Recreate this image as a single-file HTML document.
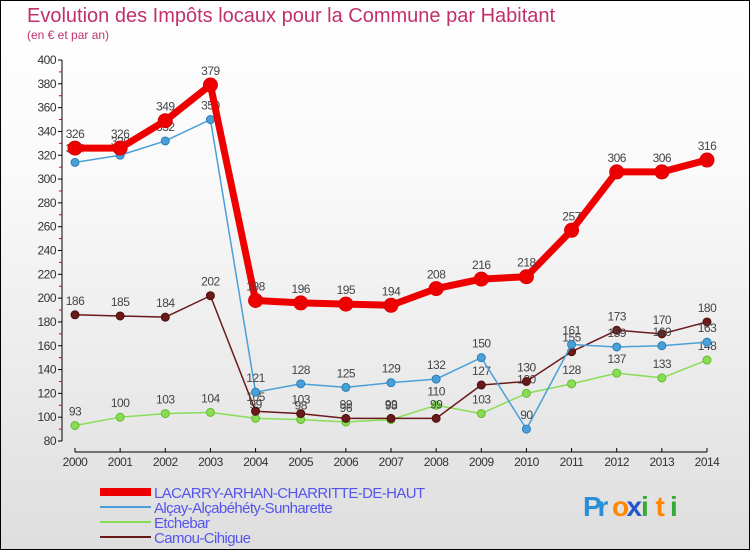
<!DOCTYPE html>
<html><head><meta charset="utf-8"><style>
body{margin:0}
#wrap{width:750px;height:550px;position:relative;overflow:hidden;box-sizing:border-box;border:1px solid #000;background:linear-gradient(#fff,#fafafa 30%,#dedede);font-family:"Liberation Sans","DejaVu Sans",sans-serif}
</style></head><body>
<div id="wrap">
<svg id="chart" width="750" height="550" style="position:absolute;left:-1px;top:-1px"></svg>
</div>
<script>
const years=["2000","2001","2002","2003","2004","2005","2006","2007","2008","2009","2010","2011","2012","2013","2014"];
const lacarry=[326,326,349,379,198,196,195,194,208,216,218,257,306,306,316];
const alcay=[314,320,332,350,121,128,125,129,132,150,90,161,159,160,163];
const etchebar=[93,100,103,104,99,98,96,98,110,103,120,128,137,133,148];
const camou=[186,185,184,202,105,103,99,99,99,127,130,155,173,170,180];
const yTicks=[80,100,120,140,160,180,200,220,240,260,280,300,320,340,360,380,400];
const NS="http://www.w3.org/2000/svg";
const svg=document.getElementById('chart');
function X(i){return 75+i*(632/14);}
function Y(v){return 441-(v-80)*(381/320);}
function el(t,a,p){const e=document.createElementNS(NS,t);for(const k in a)e.setAttribute(k,a[k]);(p||svg).appendChild(e);return e;}
function txt(x,y,s,a){const e=el('text',Object.assign({x:x,y:y},a));e.textContent=s;return e;}
let t=txt(27,22,"Evolution des Impôts locaux pour la Commune par Habitant",{fill:"#c0306a","font-size":"20"});

t=txt(27,39,"(en € et par an)",{fill:"#c0306a","font-size":"12"});

let a=el('line',{x1:62,y1:60,x2:62,y2:441,stroke:"#000","stroke-width":1});

a=el('line',{x1:75,y1:452,x2:707,y2:452,stroke:"#000","stroke-width":1});

yTicks.forEach((v,i)=>{
 el('line',{x1:58,y1:Y(v),x2:62,y2:Y(v),stroke:"#000"});
 if(i<yTicks.length-1)el('line',{x1:59,y1:Y(v+10),x2:62,y2:Y(v+10),stroke:"#d00"});
 const l=txt(56,Y(v)+4,String(v),{fill:"#333","font-size":"12","text-anchor":"end","letter-spacing":"-0.5"});
 
});
years.forEach((y,i)=>{
 el('line',{x1:X(i),y1:448,x2:X(i),y2:452,stroke:"#000"});
 const l=txt(X(i),466,y,{fill:"#333","font-size":"12","text-anchor":"middle","letter-spacing":"-0.5"});
 
});
function series(data,color,w,r,name,dark){
 const g=el('g',{});
 
 el('polyline',{points:data.map((v,i)=>X(i)+","+Y(v)).join(" "),fill:"none",stroke:color,"stroke-width":w,"stroke-linejoin":"round"},g);
 data.forEach((v,i)=>{
  const c=el('circle',{cx:X(i),cy:Y(v),r:r,fill:color,stroke:dark,"stroke-width":1},g);
  
  const l=txt(X(i),Y(v)-10,String(v),{fill:"#444","font-size":"12","text-anchor":"middle","letter-spacing":"-0.5"},g);
  
 });
}
series(etchebar,"#88dd55",1.5,4,"series-etchebar","#66bb33");
series(camou,"#6b1a1a",1.5,4,"series-camou","#4a0f0f");
series(alcay,"#4a9fd8",1.5,4,"series-alcay","#2a7fb8");
series(lacarry,"#ee0000",7,7,"series-lacarry","#dd0000");
const leg=[["LACARRY-ARHAN-CHARRITTE-DE-HAUT","#ee0000",8],["Alçay-Alçabéhéty-Sunharette","#4a9fd8",2],["Etchebar","#88dd55",2],["Camou-Cihigue","#6b1a1a",2]];
leg.forEach((d,i)=>{
 const g=el('g',{});
 
 const yy=492+i*15;
 el('line',{x1:100,y1:yy,x2:151,y2:yy,stroke:d[1],"stroke-width":d[2]},g);
 txt(154,yy+6,d[0],{fill:"#5555ee","font-size":"15","letter-spacing":"-0.6"},g);
});
const lg=el('g',{});

[["P","#2a8fd8"],["r","#2a8fd8"],["o","#ff8800"],["x","#2255cc"],["i","#33aa33"],["t","#ff8800"],["i","#33aa33"]].forEach((c,i)=>{
 txt(583+i*14.5,516,c[0],{fill:c[1],"font-size":"28","font-weight":"bold"},lg);
});
</script>
</body></html>
